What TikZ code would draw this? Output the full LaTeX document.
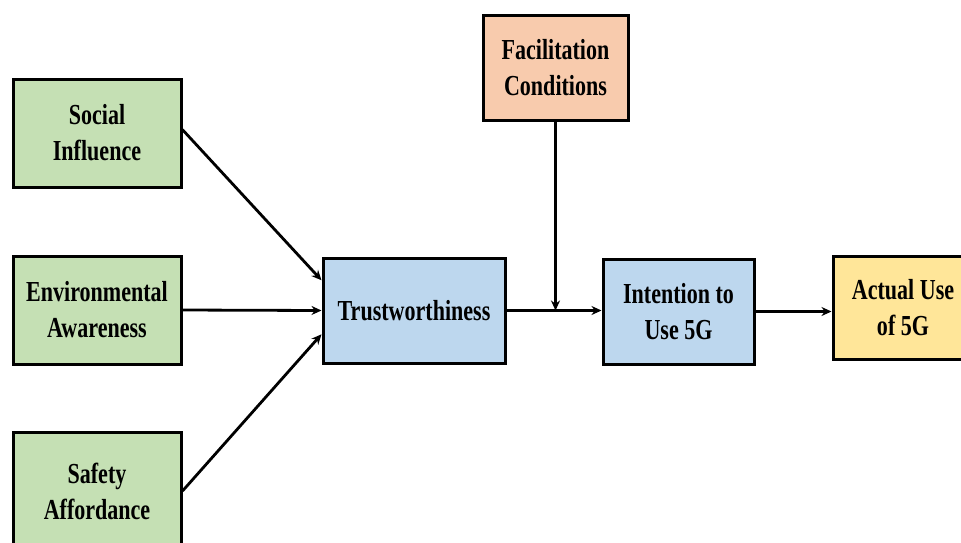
\documentclass[tikz,border=0pt]{standalone}
\usepackage{fontspec}
\setmainfont[FakeStretch=0.76]{Liberation Serif}
\usetikzlibrary{arrows.meta,calc}
\definecolor{cgreen}{HTML}{C5E0B4}
\definecolor{cblue}{HTML}{BDD7EE}
\definecolor{corange}{HTML}{F8CBAD}
\definecolor{cyellow}{HTML}{FFE699}
\tikzset{
  box/.style={draw=black, line width=3pt, align=center, inner sep=0pt,
    font=\fontsize{29}{36}\selectfont\bfseries},
  conn/.style={line width=2.8pt, -{Stealth[length=10pt,width=9pt]}},
}
\begin{document}
\begin{tikzpicture}[x=1pt,y=-1pt]
\clip (0,0) rectangle (961,542);
\fill[white] (0,0) rectangle (961,542);
\node[box, fill=cgreen, minimum width=168pt, minimum height=108pt] (si) at (97,133) {Social\\Influence};
\node[box, fill=cgreen, minimum width=168pt, minimum height=108pt] (ea) at (97,310) {Environmental\\Awareness};
\node[box, fill=cgreen, minimum width=168pt, minimum height=118pt] (sa) at (97,491) {Safety\\Affordance};
\node[box, fill=cblue, minimum width=182pt, minimum height=105pt] (tr) at (414,310.5) {Trustworthiness};
\node[box, fill=corange, minimum width=145pt, minimum height=105pt] (fc) at (555.5,67.5) {Facilitation\\Conditions};
\node[box, fill=cblue, minimum width=151pt, minimum height=105pt] (it) at (678.5,311.5) {Intention to\\Use 5G};
\node[box, fill=cyellow, minimum width=140pt, minimum height=103pt] (au) at (903,307.5) {Actual Use\\of 5G};
\coordinate (t1) at ($(tr.north west)!0.22!(tr.south west)$);
\coordinate (t3) at ($(tr.north west)!0.72!(tr.south west)$);
\coordinate (sae) at ($(sa.north east)!0.5!(sa.south east)$);
\draw[conn] ($(si.north east)!0.47!(si.south east)$) -- (t1);
\draw[conn] (ea.east) -- (tr.west);
\draw[conn] (sae) -- (t3);
\draw[conn] (tr.east) -- (tr.east -| it.west);
\draw[conn] (fc.south) -- (fc.south |- tr.east);
\draw[conn] (it.east) -- (it.east -| au.west);
\end{tikzpicture}
\end{document}
